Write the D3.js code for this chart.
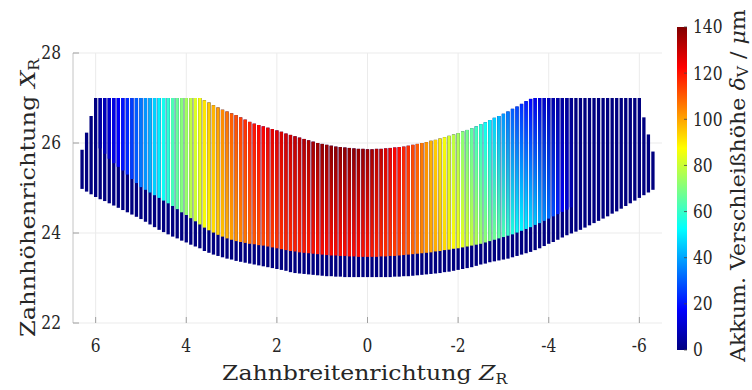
<!DOCTYPE html>
<html><head><meta charset="utf-8">
<script src="https://cdn.jsdelivr.net/npm/d3@7"></script>
<style>
html,body{margin:0;padding:0;background:#fff;}
svg{display:block;}
</style></head>
<body>
<svg id="chart" width="752" height="390"></svg>
<script>
// ---- data ----
// column positions Z_R (mm)
const colZ = [6.3,6.2,6.1,6.0,5.9,5.8,5.7,5.6,5.5,5.4,5.3,5.2,5.1,5.0,4.9,4.8,4.7,4.6,4.5,4.4,4.3,4.2,4.1,4.0,
  3.9,3.8,3.7,3.6,3.5,3.4,3.3,3.2,3.1,3.0,2.9,2.8,2.7,2.6,2.5,2.4,2.3,2.2,2.1,2.0,1.9,1.8,1.7,1.6,1.5,1.4,1.3,1.2,1.1,1.0,
  0.9,0.8,0.7,0.6,0.5,0.4,0.3,0.2,0.1,0.0,
  -0.1,-0.2,-0.3,-0.4,-0.5,-0.6,-0.7,-0.8,-0.9,-1.0,-1.1,-1.2,-1.3,-1.4,-1.5,-1.6,-1.7,-1.8,-1.9,-2.0,
  -2.1,-2.2,-2.3,-2.4,-2.5,-2.6,-2.7,-2.8,-2.9,-3.0,-3.1,-3.2,-3.3,-3.4,-3.5,-3.6,-3.7,-3.8,-3.9,-4.0,
  -4.1,-4.2,-4.3,-4.4,-4.5,-4.6,-4.7,-4.8,-4.9,-5.0,-5.1,-5.2,-5.3,-5.4,-5.5,-5.6,-5.7,-5.8,-5.9,-6.0,
  -6.1,-6.2,-6.3];
// top of each column (X_R)
const colTop = [25.85,26.23,26.6,27,
  27,27,27,27,27,27,27,27,27,27,
  27,27,27,27,27,27,27,27,27,27,
  27,27,27,26.95,26.9,26.84,26.79,26.74,26.7,26.66,
  26.62,26.57,26.52,26.47,26.43,26.4,26.37,26.34,26.31,26.28,
  26.25,26.21,26.18,26.15,26.12,26.09,26.06,26.03,26.0,25.98,
  25.96,25.94,25.92,25.91,25.9,25.89,25.88,25.87,25.87,25.86,
  25.86,25.87,25.87,25.88,25.89,25.9,25.91,25.92,25.94,25.96,
  25.98,26.0,26.02,26.05,26.07,26.1,26.13,26.16,26.19,26.22,
  26.26,26.29,26.33,26.37,26.42,26.46,26.51,26.56,26.6,26.65,
  26.7,26.76,26.81,26.87,26.93,26.98,27,27,27,27,
  27,27,27,27,27,27,27,27,27,27,
  27,27,27,27,27,27,27,27,27,27,
  26.57,26.19,25.81];
// bottom of each column (X_R)
const colBottom = [24.98,24.92,24.86,24.8,
  24.75,24.71,24.66,24.61,24.56,24.51,24.46,24.41,24.36,24.31,
  24.25,24.19,24.13,24.07,24.02,23.97,23.92,23.88,23.83,23.79,
  23.74,23.7,23.66,23.6,23.56,23.52,23.49,23.46,23.43,23.41,
  23.38,23.36,23.34,23.32,23.3,23.28,23.26,23.24,23.22,23.2,
  23.18,23.16,23.13,23.11,23.1,23.09,23.08,23.07,23.06,23.05,
  23.04,23.04,23.03,23.03,23.02,23.02,23.02,23.02,23.02,23.02,
  23.02,23.02,23.02,23.02,23.02,23.03,23.03,23.04,23.04,23.05,
  23.06,23.07,23.08,23.09,23.1,23.11,23.13,23.14,23.16,23.18,
  23.2,23.22,23.24,23.27,23.3,23.32,23.35,23.37,23.39,23.41,
  23.43,23.46,23.49,23.52,23.55,23.58,23.62,23.66,23.71,23.76,
  23.8,23.85,23.9,23.95,23.99,24.03,24.07,24.12,24.17,24.22,
  24.27,24.32,24.37,24.43,24.48,24.54,24.6,24.66,24.72,24.78,
  24.84,24.9,24.96];
// lower edge of the worn (coloured) zone (X_R), null = no wear
const wearEdge = [null,null,null,null,
  25.88,25.76,25.65,25.55,25.47,25.39,25.3,25.2,25.11,25.02,
  24.96,24.9,24.84,24.78,24.72,24.66,24.6,24.53,24.46,24.4,
  24.33,24.26,24.19,24.12,24.06,24.01,23.96,23.92,23.88,23.85,
  23.82,23.8,23.78,23.76,23.75,23.73,23.72,23.7,23.68,23.66,
  23.64,23.62,23.6,23.59,23.57,23.56,23.55,23.54,23.53,23.52,
  23.51,23.5,23.5,23.49,23.49,23.48,23.48,23.47,23.47,23.47,
  23.47,23.47,23.48,23.48,23.49,23.49,23.5,23.51,23.52,23.53,
  23.54,23.55,23.56,23.57,23.59,23.6,23.62,23.63,23.65,23.66,
  23.68,23.7,23.72,23.74,23.76,23.79,23.82,23.85,23.88,23.91,
  23.94,23.97,24.01,24.05,24.09,24.13,24.18,24.22,24.27,24.32,
  24.37,24.42,24.47,24.52,24.57,null,null,null,null,null,
  null,null,null,null,null,null,null,null,null,null,
  null,null,null];
// accumulated wear depth (µm) at top and at lower edge of worn zone
const wearTop = [0,0,0,0,
  5,8,11,14,17,20,23,26,30,34,
  38,42,46,51,55,59,63,67,71,75,
  79,83,87,91,95,98,101,104,107,110,
  112,114,116,118,120,122,123,125,126,127,
  128,129,130,131,132,133,134,135,136,137,
  137,138,138,138,138,138,138,137,137,136,
  135,133,131,128,126,123,121,118,116,113,
  110,106,102,98,94,90,86,82,78,75,
  71,68,65,61,58,54,50,46,42,38,
  34,30,27,24,21,18,15,12,10,8,
  6,5,4,3,2,0,0,0,0,0,
  0,0,0,0,0,0,0,0,0,0,
  0,0,0];
const wearBottom = [0,0,0,0,
  5,8,11,14,17,20,23,26,30,34,
  38,42,46,50,54,58,62,66,70,73,
  77,80,83,86,89,92,94,96,98,100,
  102,104,106,108,110,111,112,113,114,115,
  116,117,117,118,118,119,119,120,120,121,
  121,121,121,121,121,121,121,121,120,120,
  119,118,117,116,115,114,113,112,110,108,
  106,104,102,100,99,96,93,90,88,86,
  84,82,80,77,75,72,70,68,66,63,
  60,57,54,52,50,48,45,41,37,33,
  28,22,17,12,7,0,0,0,0,0,
  0,0,0,0,0,0,0,0,0,0,
  0,0,0];
const xTicks = [6,4,2,0,-2,-4,-6];
const yTicks = [22,24,26,28];
const cTicks = [0,20,40,60,80,100,120,140];

// ---- layout ----
const FONT = "DejaVu Serif, serif";
const svg = d3.select("#chart");
const x = d3.scaleLinear().domain([6.5,-6.5]).range([73,662]);
const y = d3.scaleLinear().domain([22,28]).range([323,53]);
const cmax = 140;
const jet = t => {
  const c = v => Math.max(0, Math.min(1, v));
  const r = c(1.5 - Math.abs(4*t - 3)), g = c(1.5 - Math.abs(4*t - 2)), b = c(1.5 - Math.abs(4*t - 1));
  return d3.rgb(r*255, g*255, b*255).formatHex();
};
const cScale = v => jet(v / cmax);

const defs = svg.append("defs");

// grid
const grid = svg.append("g");
grid.selectAll("line.vx").data(xTicks).join("line")
  .attr("x1", d => x(d)).attr("x2", d => x(d)).attr("y1", y(22)).attr("y2", y(28))
  .attr("stroke", "#ebebeb").attr("stroke-width", 1);
grid.selectAll("line.hy").data(yTicks).join("line")
  .attr("x1", 73).attr("x2", 662).attr("y1", d => y(d)).attr("y2", d => y(d))
  .attr("stroke", "#ebebeb").attr("stroke-width", 1);

// columns
const cols = colZ.map((z, i) => ({z, top: colTop[i], bot: colBottom[i], edge: wearEdge[i], vt: wearTop[i], vb: wearBottom[i], i}));
const bw = 3.3;
const gCols = svg.append("g");
gCols.selectAll("rect.base").data(cols).join("rect")
  .attr("x", d => x(d.z) - bw/2).attr("width", bw)
  .attr("y", d => y(d.top)).attr("height", d => y(d.bot) - y(d.top))
  .attr("fill", cScale(0));
const worn = cols.filter(d => d.edge !== null);
worn.forEach(d => {
  const gr = defs.append("linearGradient").attr("id", "g" + d.i)
    .attr("x1", 0).attr("y1", 0).attr("x2", 0).attr("y2", 1);
  gr.append("stop").attr("offset", 0).attr("stop-color", cScale(d.vt));
  gr.append("stop").attr("offset", 1).attr("stop-color", cScale(d.vb));
});
gCols.selectAll("rect.worn").data(worn).join("rect")
  .attr("x", d => x(d.z) - bw/2).attr("width", bw)
  .attr("y", d => y(d.top)).attr("height", d => y(d.edge) - y(d.top))
  .attr("fill", d => `url(#g${d.i})`);

// axis line + ticks
svg.append("line").attr("x1", 73).attr("x2", 73).attr("y1", 53).attr("y2", 323)
  .attr("stroke", "#c4c4c4").attr("stroke-width", 1);
svg.selectAll("line.ytk").data(yTicks).join("line")
  .attr("x1", 73).attr("x2", 79).attr("y1", d => y(d)).attr("y2", d => y(d))
  .attr("stroke", "#a0a0a0");
svg.selectAll("line.xtk").data(xTicks).join("line")
  .attr("x1", d => x(d)).attr("x2", d => x(d)).attr("y1", 323).attr("y2", 317)
  .attr("stroke", "#a0a0a0");

// tick labels (slightly condensed to match the reference's narrow digits)
const SX = 0.86;
function tickLabels(cls, data, px, py, anchor, dy) {
  svg.selectAll("g." + cls).data(data).join("g").attr("class", cls)
    .attr("transform", d => `translate(${px(d)},${py(d)}) scale(${SX},1)`)
    .append("text")
    .attr("font-family", FONT).attr("fill", "#262626").attr("font-size", 18)
    .attr("text-anchor", anchor).attr("dy", dy).text(d => d);
}
tickLabels("yl", yTicks, () => 61, d => y(d), "end", "0.36em");
tickLabels("xl", xTicks, d => x(d), () => 352, "middle", "0");

// colorbar
const cy = d3.scaleLinear().domain([0, cmax]).range([350, 27]);
const cg = defs.append("linearGradient").attr("id", "cbar").attr("x1", 0).attr("y1", 1).attr("x2", 0).attr("y2", 0);
d3.range(0, 1.0001, 0.125).forEach(t => cg.append("stop").attr("offset", t).attr("stop-color", jet(t)));
svg.append("rect").attr("x", 677).attr("y", cy(cmax)).attr("width", 10).attr("height", cy(0) - cy(cmax))
  .attr("fill", "url(#cbar)");
svg.selectAll("line.ctk").data(cTicks).join("line")
  .attr("x1", 684).attr("x2", 687).attr("y1", d => cy(d)).attr("y2", d => cy(d))
  .attr("stroke", "#444").attr("stroke-width", 0.8);
tickLabels("cl", cTicks, () => 693, d => cy(d), "start", "0.36em");

// axis labels (scaled to the reference extents)
function label(x0, y0, rot, target, size, build) {
  const g = svg.append("g");
  const t = g.append("text").attr("font-size", size).attr("font-family", FONT).attr("fill", "#262626");
  build(t);
  const w = t.node().getBBox().width || target;
  const sx = target / w;
  g.attr("transform", `translate(${x0},${y0}) rotate(${rot}) scale(${sx},1)`);
}
label(222, 380, 0, 286, 21, t => {
  t.append("tspan").text("Zahnbreitenrichtung ");
  t.append("tspan").attr("font-style", "italic").text("Z");
  t.append("tspan").attr("font-size", 14).attr("dy", 4).text("R");
});
label(35, 337, -90, 279, 21, t => {
  t.append("tspan").text("Zahnhöhenrichtung ");
  t.append("tspan").attr("font-style", "italic").text("X");
  t.append("tspan").attr("font-size", 14).attr("dy", 4).text("R");
});
label(745, 362, -90, 354, 20, t => {
  t.append("tspan").text("Akkum. Verschleißhöhe ");
  t.append("tspan").attr("font-style", "italic").text("δ");
  t.append("tspan").attr("font-size", 14).attr("dy", 3).text("V");
  t.append("tspan").attr("dy", -3).text(" / ");
  t.append("tspan").attr("font-style", "italic").text("μ");
  t.append("tspan").text("m");
});
</script>
</body></html>
